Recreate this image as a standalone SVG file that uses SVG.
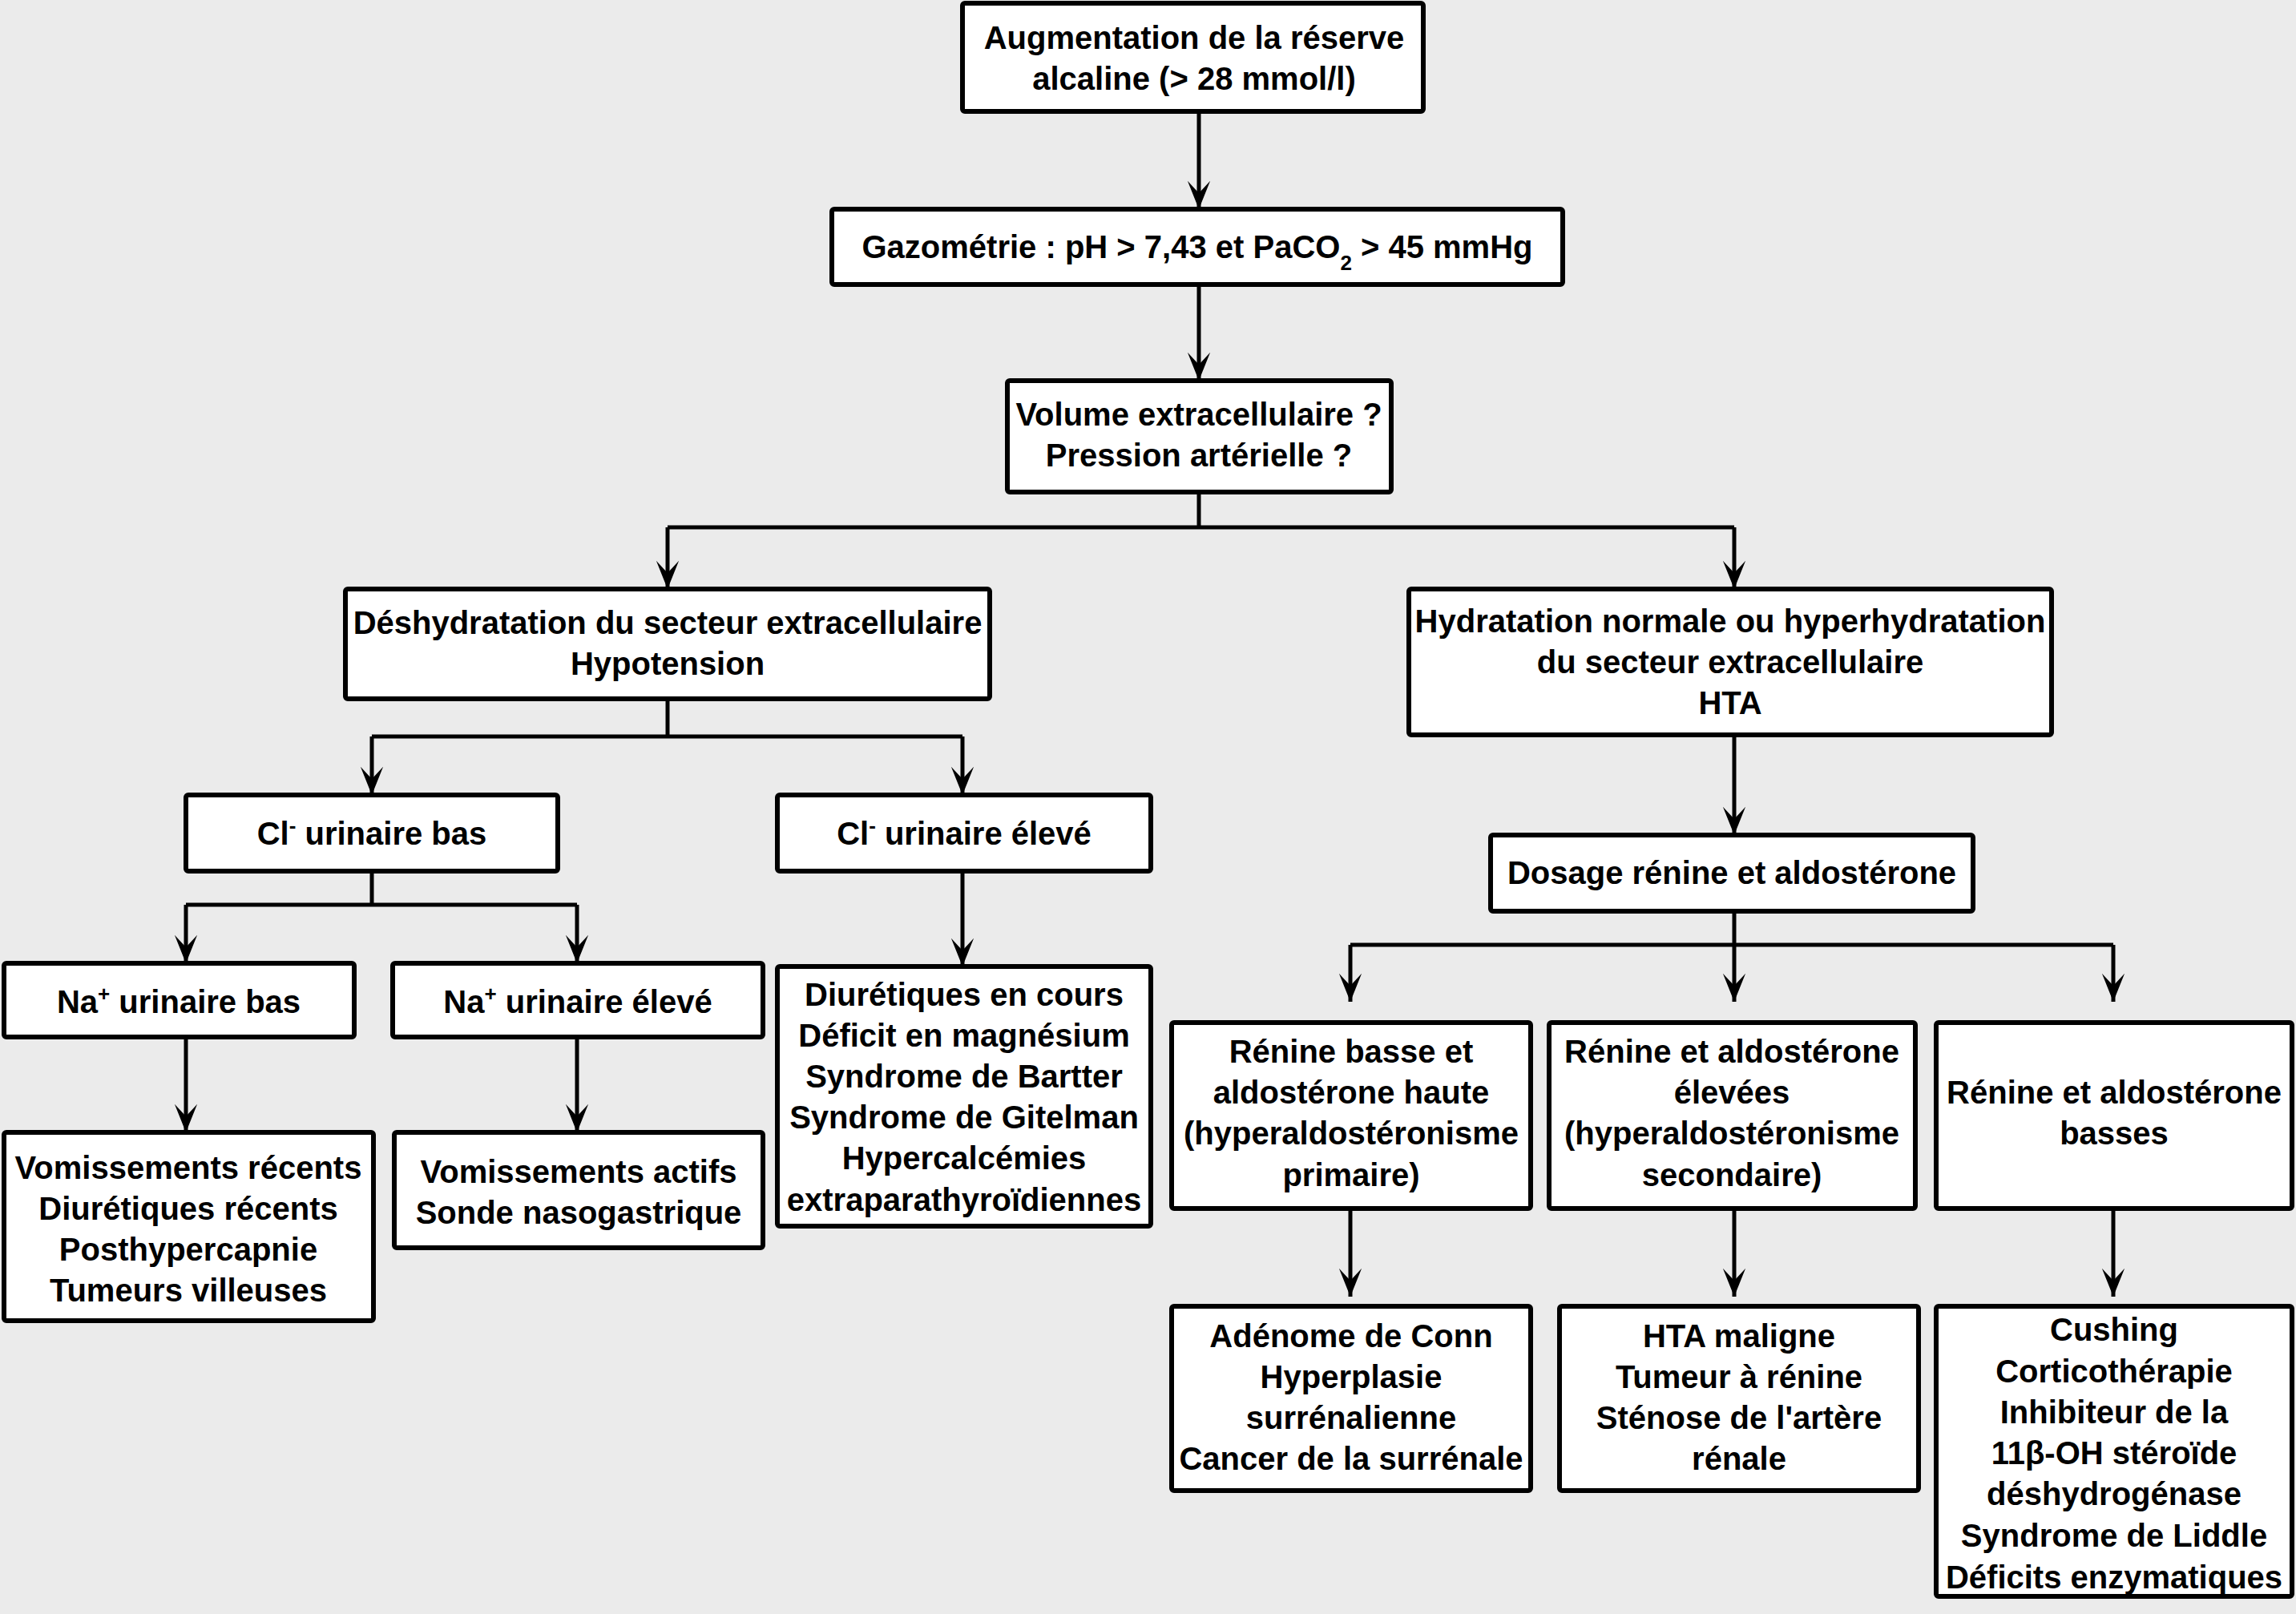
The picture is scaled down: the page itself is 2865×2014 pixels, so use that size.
<svg xmlns="http://www.w3.org/2000/svg" width="2865" height="2014" viewBox="0 0 2865 2014">
<defs>
<marker id="ah" markerUnits="userSpaceOnUse" markerWidth="40" markerHeight="40" refX="0" refY="0" viewBox="-32 -16 34 32" orient="auto" overflow="visible">
<path d="M0,0 L-30,-12 L-17,0 L-30,12 Z" fill="#000"/>
</marker>
<style>
.bx{fill:#fff;stroke:#000;stroke-width:6}
.t{font-family:"Liberation Sans",Arial,sans-serif;font-weight:bold;font-size:40px;fill:#000;text-anchor:middle}
.ln{fill:none;stroke:#000;stroke-width:5}
.ar{fill:none;stroke:#000;stroke-width:5;marker-end:url(#ah)}
</style>
</defs>
<rect x="0" y="0" width="2865" height="2014" fill="#ebebeb"/>

<g id="connectors">
<line class="ar" x1="1496" y1="139" x2="1496" y2="261"/>
<line class="ar" x1="1496" y1="355" x2="1496" y2="475"/>
<polyline class="ln" points="1496,614 1496,658"/>
<polyline class="ln" points="833,658 2164,658"/>
<line class="ar" x1="833" y1="658" x2="833" y2="735"/>
<line class="ar" x1="2164" y1="658" x2="2164" y2="735"/>
<polyline class="ln" points="833,872 833,919"/>
<polyline class="ln" points="464,919 1201,919"/>
<line class="ar" x1="464" y1="919" x2="464" y2="992"/>
<line class="ar" x1="1201" y1="919" x2="1201" y2="992"/>
<polyline class="ln" points="464,1087 464,1129"/>
<polyline class="ln" points="232,1129 720,1129"/>
<line class="ar" x1="232" y1="1129" x2="232" y2="1202"/>
<line class="ar" x1="720" y1="1129" x2="720" y2="1202"/>
<line class="ar" x1="232" y1="1294" x2="232" y2="1413"/>
<line class="ar" x1="720" y1="1294" x2="720" y2="1413"/>
<line class="ar" x1="1201" y1="1087" x2="1201" y2="1206"/>
<line class="ar" x1="2164" y1="917" x2="2164" y2="1042"/>
<polyline class="ln" points="2164,1137 2164,1179"/>
<polyline class="ln" points="1685,1179 2637,1179"/>
<line class="ar" x1="1685" y1="1179" x2="1685" y2="1250"/>
<line class="ar" x1="2164" y1="1179" x2="2164" y2="1250"/>
<line class="ar" x1="2637" y1="1179" x2="2637" y2="1250"/>
<line class="ar" x1="1685" y1="1508" x2="1685" y2="1618"/>
<line class="ar" x1="2164" y1="1508" x2="2164" y2="1618"/>
<line class="ar" x1="2637" y1="1508" x2="2637" y2="1618"/>
</g>

<g id="nA"><rect class="bx" x="1201" y="4" width="575" height="135" rx="3"/>
<text class="t" x="1490" y="61" font-size="42">Augmentation de la réserve</text>
<text class="t" x="1490" y="112" font-size="42">alcaline (&gt; 28 mmol/l)</text></g>

<g id="nB"><rect class="bx" x="1038" y="261" width="912" height="94" rx="3"/>
<text class="t" x="1494" y="322">Gazométrie : pH &gt; 7,43 et PaCO<tspan baseline-shift="sub" font-size="26">2</tspan> &gt; 45 mmHg</text></g>

<g id="nC"><rect class="bx" x="1257" y="475" width="479" height="139" rx="3"/>
<text class="t" x="1496" y="531">Volume extracellulaire ?</text>
<text class="t" x="1496" y="582">Pression artérielle ?</text></g>

<g id="nD"><rect class="bx" x="431" y="735" width="804" height="137" rx="3"/>
<text class="t" x="833" y="791">Déshydratation du secteur extracellulaire</text>
<text class="t" x="833" y="842">Hypotension</text></g>

<g id="nE"><rect class="bx" x="1758" y="735" width="802" height="182" rx="3"/>
<text class="t" x="2159" y="789">Hydratation normale ou hyperhydratation</text>
<text class="t" x="2159" y="840">du secteur extracellulaire</text>
<text class="t" x="2159" y="891">HTA</text></g>

<g id="nF"><rect class="bx" x="232" y="992" width="464" height="95" rx="3"/>
<text class="t" x="464" y="1054">Cl<tspan baseline-shift="super" font-size="26">-</tspan> urinaire bas</text></g>

<g id="nG"><rect class="bx" x="970" y="992" width="466" height="95" rx="3"/>
<text class="t" x="1203" y="1054">Cl<tspan baseline-shift="super" font-size="26">-</tspan> urinaire élevé</text></g>

<g id="nH"><rect class="bx" x="5" y="1202" width="437" height="92" rx="3"/>
<text class="t" x="223" y="1264">Na<tspan baseline-shift="super" font-size="26">+</tspan> urinaire bas</text></g>

<g id="nI"><rect class="bx" x="490" y="1202" width="462" height="92" rx="3"/>
<text class="t" x="721" y="1264">Na<tspan baseline-shift="super" font-size="26">+</tspan> urinaire élevé</text></g>

<g id="nJ"><rect class="bx" x="5" y="1413" width="461" height="235" rx="3"/>
<text class="t" x="235" y="1471">Vomissements récents</text>
<text class="t" x="235" y="1522">Diurétiques récents</text>
<text class="t" x="235" y="1573">Posthypercapnie</text>
<text class="t" x="235" y="1624">Tumeurs villeuses</text></g>

<g id="nK"><rect class="bx" x="492" y="1413" width="460" height="144" rx="3"/>
<text class="t" x="722" y="1476">Vomissements actifs</text>
<text class="t" x="722" y="1527">Sonde nasogastrique</text></g>

<g id="nL"><rect class="bx" x="970" y="1206" width="466" height="324" rx="3"/>
<text class="t" x="1203" y="1255">Diurétiques en cours</text>
<text class="t" x="1203" y="1306">Déficit en magnésium</text>
<text class="t" x="1203" y="1357">Syndrome de Bartter</text>
<text class="t" x="1203" y="1408">Syndrome de Gitelman</text>
<text class="t" x="1203" y="1459">Hypercalcémies</text>
<text class="t" x="1203" y="1511">extraparathyroïdiennes</text></g>

<g id="nM"><rect class="bx" x="1860" y="1042" width="602" height="95" rx="3"/>
<text class="t" x="2161" y="1103">Dosage rénine et aldostérone</text></g>

<g id="nN"><rect class="bx" x="1462" y="1276" width="448" height="232" rx="3"/>
<text class="t" x="1686" y="1326">Rénine basse et</text>
<text class="t" x="1686" y="1377">aldostérone haute</text>
<text class="t" x="1686" y="1428">(hyperaldostéronisme</text>
<text class="t" x="1686" y="1480">primaire)</text></g>

<g id="nO"><rect class="bx" x="1933" y="1276" width="457" height="232" rx="3"/>
<text class="t" x="2161" y="1326">Rénine et aldostérone</text>
<text class="t" x="2161" y="1377">élevées</text>
<text class="t" x="2161" y="1428">(hyperaldostéronisme</text>
<text class="t" x="2161" y="1480">secondaire)</text></g>

<g id="nP"><rect class="bx" x="2416" y="1276" width="444" height="232" rx="3"/>
<text class="t" x="2638" y="1377">Rénine et aldostérone</text>
<text class="t" x="2638" y="1428">basses</text></g>

<g id="nQ"><rect class="bx" x="1462" y="1630" width="448" height="230" rx="3"/>
<text class="t" x="1686" y="1681">Adénome de Conn</text>
<text class="t" x="1686" y="1732">Hyperplasie</text>
<text class="t" x="1686" y="1783">surrénalienne</text>
<text class="t" x="1686" y="1834">Cancer de la surrénale</text></g>

<g id="nR"><rect class="bx" x="1946" y="1630" width="448" height="230" rx="3"/>
<text class="t" x="2170" y="1681">HTA maligne</text>
<text class="t" x="2170" y="1732">Tumeur à rénine</text>
<text class="t" x="2170" y="1783">Sténose de l'artère</text>
<text class="t" x="2170" y="1834">rénale</text></g>

<g id="nS"><rect class="bx" x="2416" y="1630" width="444" height="362" rx="3"/>
<text class="t" x="2638" y="1673">Cushing</text>
<text class="t" x="2638" y="1725">Corticothérapie</text>
<text class="t" x="2638" y="1776">Inhibiteur de la</text>
<text class="t" x="2638" y="1827">11β-OH stéroïde</text>
<text class="t" x="2638" y="1878">déshydrogénase</text>
<text class="t" x="2638" y="1930">Syndrome de Liddle</text>
<text class="t" x="2638" y="1982">Déficits enzymatiques</text></g>
</svg>
